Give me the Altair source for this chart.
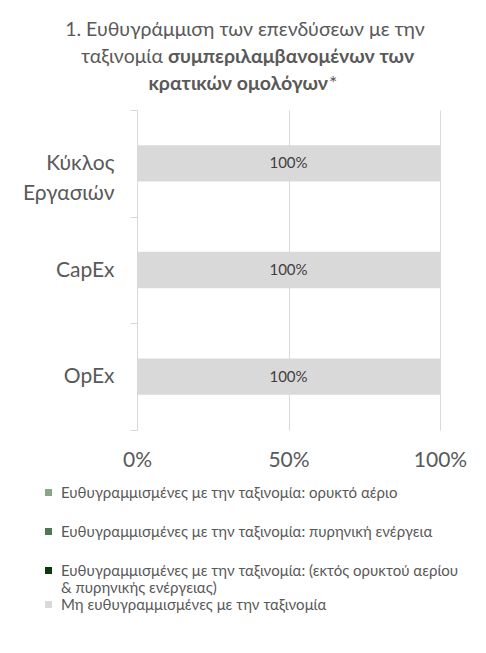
import altair as alt
import pandas as pd

CATEGORIES = ["Κύκλος Εργασιών", "CapEx", "OpEx"]
SERIES = [
    "Ευθυγραμμισμένες με την ταξινομία: ορυκτό αέριο",
    "Ευθυγραμμισμένες με την ταξινομία: πυρηνική ενέργεια",
    "Ευθυγραμμισμένες με την ταξινομία: (εκτός ορυκτού αερίου & πυρηνικής ενέργειας)",
    "Μη ευθυγραμμισμένες με την ταξινομία",
]
COLORS = ["#8AA58A", "#4E7A52", "#0A3A0A", "#D9D9D9"]
GAS = [0.0, 0.0, 0.0]
NUCLEAR = [0.0, 0.0, 0.0]
ALIGNED_OTHER = [0.0, 0.0, 0.0]
NOT_ALIGNED = [1.0, 1.0, 1.0]
X_TICKS = [0, 0.5, 1]

TITLE_LINE1 = "1. Ευθυγράμμιση των επενδύσεων με την"
TITLE_LINE2_NORMAL = "ταξινομία"
TITLE_LINE2_BOLD = "συμπεριλαμβανομένων των"
TITLE_LINE3_BOLD = "κρατικών ομολόγων"
TITLE_LINE3_NORMAL = "*"

rows = []
for s, vals in zip(SERIES, [GAS, NUCLEAR, ALIGNED_OTHER, NOT_ALIGNED]):
    for c, v in zip(CATEGORIES, vals):
        rows.append({"category": c, "series": s, "value": v})
df = pd.DataFrame(rows)

FONT = "Lato, Open Sans, sans-serif"
GRAY_TXT = "#595959"
GRID = "#D9D9D9"

y_enc = alt.Y(
    "category:N",
    sort=CATEGORIES,
    scale=alt.Scale(paddingInner=0, paddingOuter=0),
    axis=alt.Axis(
        title=None,
        domainColor=GRID,
        tickColor=GRID,
        tickSize=7,
        tickBand="extent",
        labelFont=FONT,
        labelFontSize=21,
        labelColor=GRAY_TXT,
        labelLineHeight=30,
        labelPadding=16,
        labelExpr="split(datum.label, ' ')",
    ),
)
x_enc = alt.X(
    "value:Q",
    stack="zero",
    scale=alt.Scale(domain=[0, 1], nice=False),
    axis=alt.Axis(
        title=None,
        values=X_TICKS,
        format=".0%",
        domain=False,
        ticks=False,
        grid=True,
        gridColor=GRID,
        labelFlush=False,
        labelFont=FONT,
        labelFontSize=21,
        labelColor=GRAY_TXT,
        labelPadding=19,
    ),
)

legend_common = dict(
    title=None,
    orient="none",
    legendX=-96,
    symbolType="square",
    symbolSize=49,
    symbolStrokeWidth=0,
    labelFont=FONT,
    labelFontSize=15,
    labelColor=GRAY_TXT,
    labelLimit=440,
    labelOffset=5,
    padding=0,
)

base = alt.Chart(df)

aligned = base.transform_filter(
    alt.FieldOneOfPredicate(field="series", oneOf=SERIES[:3])
).mark_bar(height={"band": 0.34}).encode(
    y=y_enc,
    x=x_enc,
    color=alt.Color(
        "series:N",
        scale=alt.Scale(domain=SERIES[:3], range=COLORS[:3]),
        legend=alt.Legend(
            legendY=375,
            rowPadding=23,
            labelExpr="split(replace(datum.label, ' & ', '|& '), '|')",
            **legend_common,
        ),
    ),
)

not_aligned = base.transform_filter(
    alt.FieldEqualPredicate(field="series", equal=SERIES[3])
).mark_bar(height={"band": 0.34}).encode(
    y=alt.Y("category:N", sort=CATEGORIES),
    x=alt.X("value:Q", stack="zero"),
    color=alt.Color(
        "series:N",
        scale=alt.Scale(domain=SERIES[3:], range=COLORS[3:]),
        legend=alt.Legend(legendY=487, **legend_common),
    ),
)

labels = base.transform_filter(
    alt.datum.value > 0
).transform_calculate(
    mid="datum.value / 2"
).mark_text(font=FONT, fontSize=15, color="#404040").encode(
    y=alt.Y("category:N", sort=CATEGORIES),
    x=alt.X("mid:Q"),
    text=alt.Text("value:Q", format=".0%"),
)

def title_piece(text, x, y, weight, align):
    return alt.Chart(alt.Data(values=[{"t": text}])).mark_text(
        font=FONT, fontSize=19.5, color=GRAY_TXT, fontWeight=weight,
        align=align, baseline="alphabetic",
    ).encode(text="t:N", x=alt.value(x), y=alt.value(y))

t1 = title_piece(TITLE_LINE1, 108, -74, "normal", "center")
t2a = title_piece(TITLE_LINE2_NORMAL, 26, -47, "normal", "right")
t2b = title_piece(TITLE_LINE2_BOLD, 31, -47, "bold", "left")
t3a = title_piece(TITLE_LINE3_BOLD, 191, -20, "bold", "right")
t3b = title_piece(TITLE_LINE3_NORMAL, 192, -20, "normal", "left")

chart = alt.layer(aligned, not_aligned, labels, t1, t2a, t2b, t3a, t3b).resolve_scale(
    color="independent"
).properties(
    width=303,
    height=320,
    padding={"left": 129, "top": 102, "right": 38, "bottom": 215},
    autosize=alt.AutoSizeParams(type="none"),
    background="white",
).configure_view(stroke=None)

chart.save("out.html", embed_options={"renderer": "svg", "actions": False})
